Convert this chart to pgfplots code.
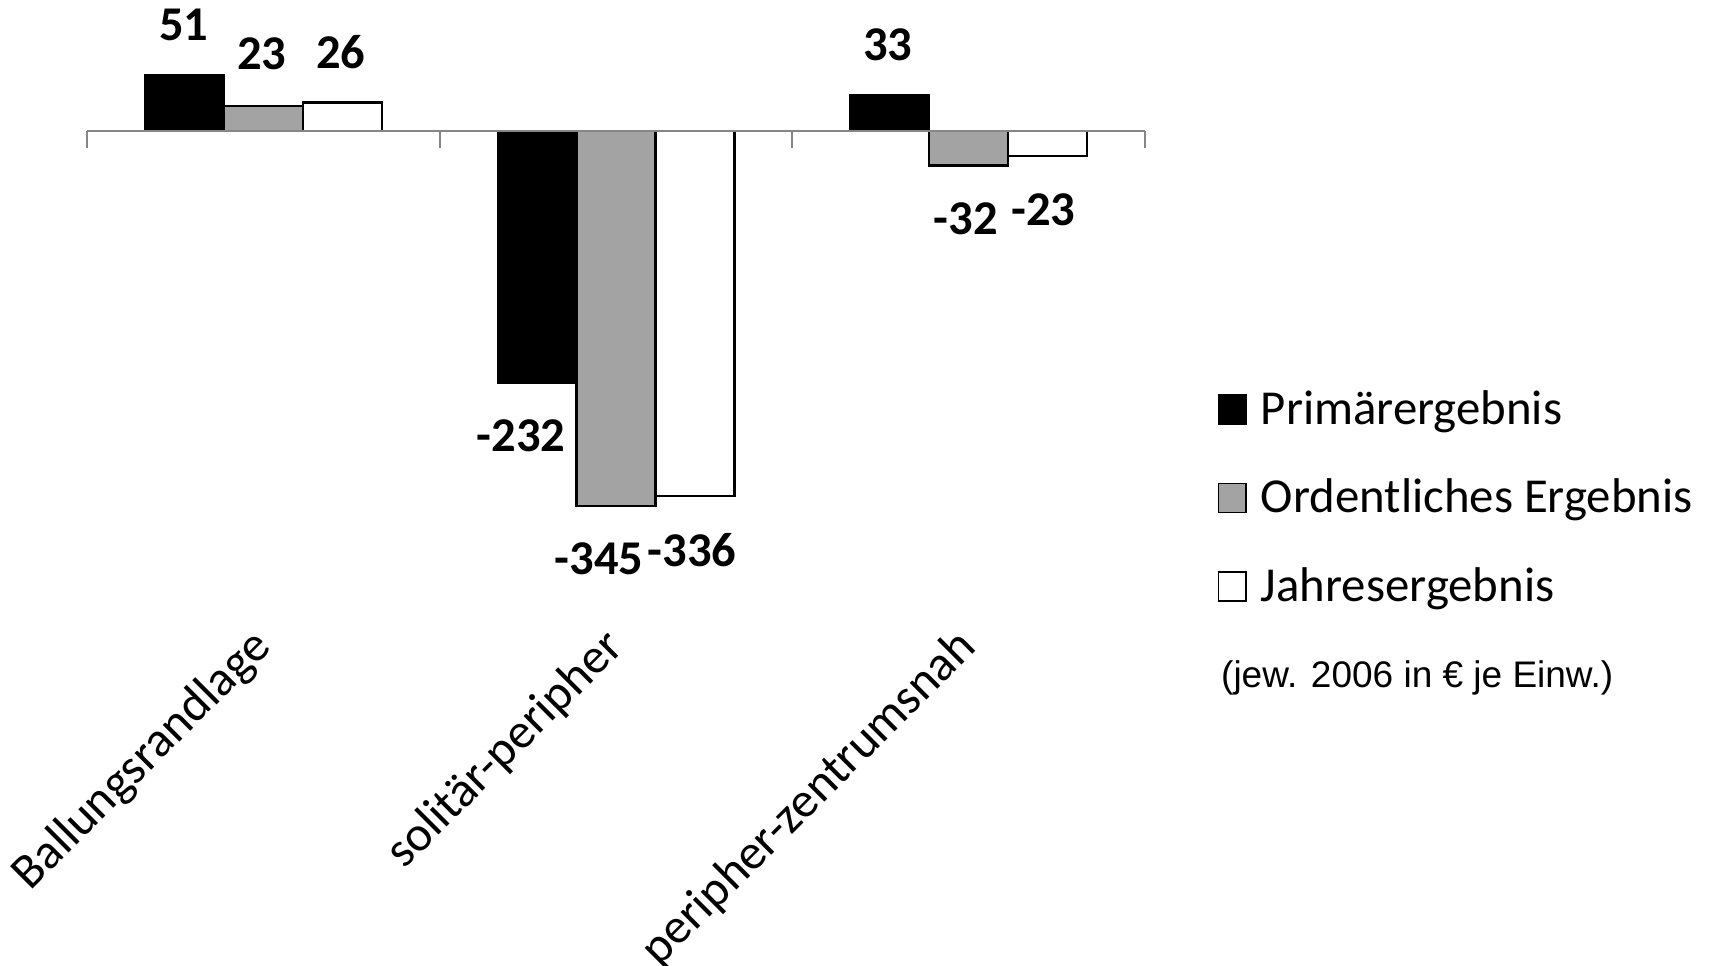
\documentclass[border=0pt]{standalone}
\usepackage{pgfplots}
\pgfplotsset{compat=1.18}
\usepackage{pgfplotstable}
\usepackage{fontspec}
\setmainfont{Carlito}
\newfontfamily\arialfont{Liberation Sans}
\definecolor{bargray}{RGB}{163,163,163}
\definecolor{axgray}{RGB}{134,134,134}

\pgfplotstableread{
x y lab dx dy
0 51 51 -1 51
1 -232 -232 -16 -53
2 33 33 -2 50
}\tPrim
\pgfplotstableread{
x y lab dx dy
0 23 23 -2 52
1 -345 -345 -17 -53
2 -32 -32 -3 -53
}\tOrd
\pgfplotstableread{
x y lab dx dy
0 26 26 -2 51
1 -336 -336 -3 -54
2 -23 -23 -4 -54
}\tJahr

\pgfplotsset{
  sq legend/.style={legend image code/.code={\draw[##1, line width=1.5pt] (0pt,-12.5pt) rectangle (27.5pt,16.5pt);}},
  lbl/.style={
    point meta=explicit symbolic,
    nodes near coords={\pgfplotspointmeta},
    visualization depends on={\thisrow{dx} \as \dx},
    visualization depends on={\thisrow{dy} \as \dy},
    nodes near coords style={anchor=center, inner sep=0pt, text=black,
      xshift=\dx pt, yshift=\dy pt, font=\bfseries\fontsize{48.5}{48.5}\selectfont},
  },
}

\begin{document}
\begin{tikzpicture}
\useasboundingbox (0,0) rectangle (1716pt,966pt);
\begin{axis}[
  at={(87.5pt,326.3pt)}, anchor=south west,
  scale only axis, width=1057.3pt, height=639.2pt,
  xmin=-0.5, xmax=2.5, ymin=-468, ymax=120,
  axis line style={draw=none},
  ytick=\empty,
  xtick={0,1,2},
  xticklabels={Ballungsrandlage,solitär-peripher,peripher-zentrumsnah},
  major tick length=0pt,
  xticklabel style={rotate=45, anchor=east, inner sep=0pt, font=\fontsize{49.5}{49.5}\selectfont},
  clip=false,
  ybar, bar width=0.224,
  legend style={at={(axis description cs:1.0690,0.3922)}, anchor=north west,
    draw=none, fill=none, inner sep=0pt, row sep=43.5pt, column sep=14pt,
    font=\fontsize{48.8}{48.8}\selectfont,
    nodes={inner sep=0pt, text height=35pt, text depth=10pt}},
  legend cell align=left,
]
\addplot[fill=black, draw=black, line width=2pt, bar shift=-0.224, sq legend, lbl]
  table[x=x, y=y, meta=lab] {\tPrim};
\addlegendentry{Primärergebnis}
\addplot[fill=bargray, draw=black, line width=2.5pt, bar shift=0, sq legend, lbl]
  table[x=x, y=y, meta=lab] {\tOrd};
\addlegendentry{Ordentliches Ergebnis}
\addplot[fill=white, draw=black, line width=2.5pt, bar shift=0.224, sq legend, lbl]
  table[x=x, y=y, meta=lab] {\tJahr};
\addlegendentry{Jahresergebnis}
\draw[axgray, line width=2.5pt] (axis cs:-0.5,0) -- (axis cs:2.5,0);
\draw[axgray, line width=2pt] (axis cs:-0.5,0) -- ++(0pt,-17pt);
\draw[axgray, line width=2pt] (axis cs:0.5,0) -- ++(0pt,-17pt);
\draw[axgray, line width=2pt] (axis cs:1.5,0) -- ++(0pt,-17pt);
\draw[axgray, line width=2pt] (axis cs:2.5,0) -- ++(0pt,-17pt);
\end{axis}
\node[anchor=base west, inner sep=0pt, font=\arialfont\fontsize{37}{37}\selectfont] at (1221pt,278.5pt) {(jew. 2006 in € je Einw.)};
\end{tikzpicture}
\end{document}
